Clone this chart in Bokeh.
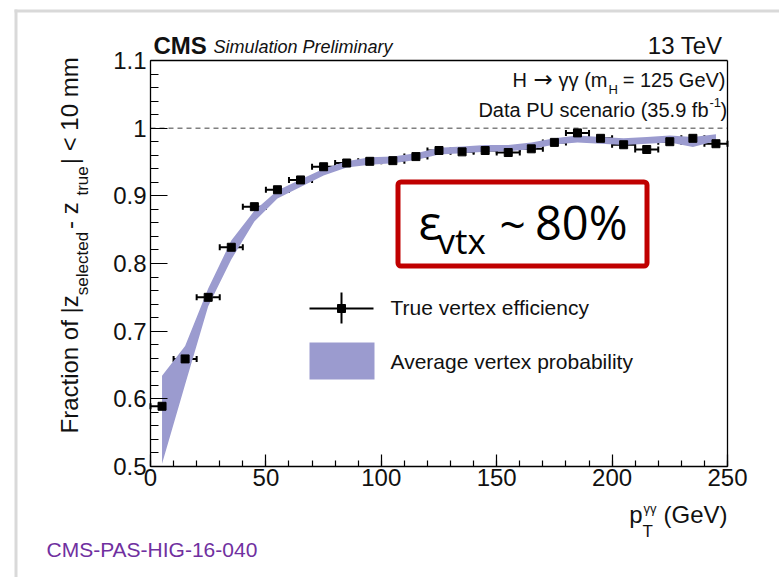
import numpy as np
from bokeh.plotting import figure
from bokeh.models import (Range1d, FixedTicker, CustomJSTickFormatter, Label,
                          BoxAnnotation, Whisker, TeeHead, ColumnDataSource, LinearAxis)
from bokeh.embed import file_html
from bokeh.resources import INLINE

# ---------------- data ----------------
pt_centers = [5, 15, 25, 35, 45, 55, 65, 75, 85, 95, 105, 115, 125,
              135, 145, 155, 165, 175, 185, 195, 205, 215, 225, 235, 245]
bin_half_width = 5
true_eff = [0.589, 0.659, 0.750, 0.824, 0.884, 0.909, 0.9235, 0.943, 0.9485,
            0.951, 0.952, 0.958, 0.967, 0.965, 0.967, 0.964, 0.9695, 0.979,
            0.993, 0.985, 0.9755, 0.9685, 0.980, 0.985, 0.977]
true_eff_err = [0.002, 0.002, 0.002, 0.002, 0.002, 0.002, 0.002, 0.002, 0.002,
                0.002, 0.002, 0.002, 0.002, 0.002, 0.002, 0.003, 0.004, 0.004,
                0.005, 0.004, 0.005, 0.006, 0.004, 0.004, 0.005]
avg_prob_lo = [0.504, 0.621, 0.737, 0.806, 0.862, 0.896, 0.913, 0.930, 0.942,
               0.946, 0.948, 0.953, 0.961, 0.963, 0.965, 0.966, 0.969, 0.976,
               0.979, 0.977, 0.975, 0.977, 0.979, 0.972, 0.981]
avg_prob_hi = [0.634, 0.678, 0.763, 0.834, 0.878, 0.908, 0.924, 0.940, 0.951,
               0.957, 0.958, 0.963, 0.971, 0.973, 0.975, 0.975, 0.979, 0.985,
               0.989, 0.987, 0.985, 0.987, 0.989, 0.987, 0.991]
x_ticks = [0, 50, 100, 150, 200, 250]
y_ticks = [0.5, 0.6, 0.7, 0.8, 0.9, 1.0, 1.1]
reference_line = 1.0

# ---------------- layout geometry ----------------
W, H = 779, 577
FRAME_L, FRAME_R, FRAME_T, FRAME_B = 150, 727, 60, 466
X0, X1 = x_ticks[0], x_ticks[-1]
Y0, Y1 = y_ticks[0], y_ticks[-1]


def dx(px):
    return X0 + (px - FRAME_L) * (X1 - X0) / (FRAME_R - FRAME_L)


def dy(py):
    return Y0 + (FRAME_B - py) * (Y1 - Y0) / (FRAME_B - FRAME_T)


# the plotting frame spans the whole canvas; the axes are placed with fixed_location
p = figure(frame_width=W, frame_height=H, width=W, height=H,
           min_border_left=0, min_border_right=0, min_border_top=0, min_border_bottom=0,
           x_range=Range1d(dx(0), dx(W)), y_range=Range1d(dy(H), dy(0)),
           output_backend="svg", toolbar_location=None)
p.title.visible = False
p.background_fill_color = "white"
p.border_fill_color = "white"
p.outline_line_color = None
p.xgrid.visible = False
p.ygrid.visible = False

FONT = "Liberation Sans"

# axes
xminor = [float(v) for v in np.arange(X0, X1 + 1, 10)]
yminor = [round(v, 2) for v in np.arange(Y0, Y1 + 0.001, 0.02)]
p.xaxis.ticker = FixedTicker(ticks=x_ticks, minor_ticks=xminor)
p.yaxis.ticker = FixedTicker(ticks=y_ticks, minor_ticks=yminor)
p.yaxis.formatter = CustomJSTickFormatter(
    code="return (Math.abs(tick - Math.round(tick)) < 1e-9) ? tick.toFixed(0) : tick.toFixed(1);")
p.xaxis.fixed_location = Y0
p.yaxis.fixed_location = X0
p.xaxis.bounds = (X0, X1)
p.yaxis.bounds = (Y0, Y1)
for ax, mj, mn in ((p.xaxis, 12, 6), (p.yaxis, 17, 8)):
    ax.major_tick_in = mj
    ax.major_tick_out = 0
    ax.minor_tick_in = mn
    ax.minor_tick_out = 0
    ax.axis_line_color = "black"
    ax.axis_line_width = 1.3
    ax.major_tick_line_color = "black"
    ax.minor_tick_line_color = "black"
    ax.major_tick_line_width = 1.2
    ax.minor_tick_line_width = 1.2
    ax.major_label_text_font = FONT
    ax.major_label_text_font_size = "24px"
    ax.major_label_text_color = "#111111"
p.xaxis.major_label_standoff = 2
p.yaxis.major_label_standoff = 4

# top and right frame lines (axes without ticks)
top_axis = LinearAxis(fixed_location=Y1, bounds=(X0, X1), ticker=FixedTicker(ticks=[]),
                      axis_line_color="black", axis_line_width=1.3,
                      major_tick_line_color=None, minor_tick_line_color=None)
right_axis = LinearAxis(fixed_location=X1, bounds=(Y0, Y1), ticker=FixedTicker(ticks=[]),
                        axis_line_color="black", axis_line_width=1.3,
                        major_tick_line_color=None, minor_tick_line_color=None)
p.add_layout(top_axis, "above")
p.add_layout(right_axis, "right")

# dashed line at 1
p.line(x=[X0, X1], y=[reference_line, reference_line], line_color="#808080",
       line_width=1.5, line_dash="5 4")

# band
p.varea(x=pt_centers, y1=avg_prob_lo, y2=avg_prob_hi, fill_color="#9b9bcf")

# points with error bars
xc = np.array(pt_centers, dtype=float)
ye = np.array(true_eff)
ee = np.array(true_eff_err)
src = ColumnDataSource(dict(x=xc, y=ye, xlo=xc - bin_half_width, xhi=xc + bin_half_width,
                            ylo=ye - ee, yhi=ye + ee))
p.add_layout(Whisker(source=src, base="y", lower="xlo", upper="xhi", dimension="width",
                     line_color="black", line_width=2,
                     lower_head=TeeHead(size=6, line_width=2, line_color="black"),
                     upper_head=TeeHead(size=6, line_width=2, line_color="black")))
p.segment(x0="x", y0="ylo", x1="x", y1="yhi", source=src, line_color="black", line_width=2)
p.scatter(x="x", y="y", source=src, marker="square", size=8, color="black")

# legend (drawn by hand)
lx = dx(341)
ly = dy(308)
p.segment(x0=[dx(309), lx], y0=[ly, dy(292)], x1=[dx(373), lx], y1=[ly, dy(323)],
          line_color="black", line_width=2)
p.scatter(x=[lx], y=[ly], marker="square", size=8, color="black")
p.quad(left=[dx(309)], right=[dx(374)], top=[dy(342)], bottom=[dy(379)],
       fill_color="#9b9bcf", line_color=None)

# baseline correction (Bokeh places the alphabetic baseline a bit low)
BASE_SHIFT = {"Liberation Sans": 0.30, "Open Sans": 0.43, "DejaVu Sans": 0.30}


def txt(s, px, py, size, font=FONT, align="left", color="#111111", style="normal", angle=0.0):
    sh = BASE_SHIFT.get(font, 0.3) * size
    if angle == 0.0:
        py = py - sh
    else:
        px = px - sh
    p.add_layout(Label(x=dx(px), y=dy(py), text=s, text_font=font,
                       text_font_size=f"{size}px", text_align=align,
                       text_baseline="alphabetic", text_color=color,
                       text_font_style=style, angle=angle))


txt("True vertex efficiency", 390, 313, 21)
txt("Average vertex probability", 390, 367, 21)

# header texts
txt("CMS", 153, 52, 24, style="bold")
txt("Simulation Preliminary", 213, 52, 18, style="italic")
txt("13 TeV", 722, 52, 24, align="right")
txt("H", 512, 85, 20)
txt("\u2192", 533, 85, 23, font="DejaVu Sans")
txt("\u03b3\u03b3 (m", 607, 85, 20, align="right")
txt("H", 608, 93, 13)
txt("= 125 GeV)", 725, 85, 20, align="right")
txt("Data PU scenario (35.9 fb", 708, 115, 20, align="right")
txt("-1", 709, 106, 13)
txt(")", 720, 115, 20)

# x-axis title
txt("p", 642, 521, 24, align="right")
txt("T", 642, 536, 17)
txt("\u03b3\u03b3", 643, 512, 13)
txt("(GeV)", 727, 521, 24, align="right")

# y-axis title (rotated, built piece by piece)
ARIAL = {' ': 278, 'F': 611, 'r': 333, 'a': 556, 'c': 500, 't': 278, 'i': 222, 'o': 556,
         'n': 556, 'f': 278, '|': 260, 'z': 500, 's': 500, 'e': 556, 'l': 222, 'd': 556,
         '-': 333, 'u': 556, '<': 584, '1': 556, '0': 556, 'm': 833}
pieces = [("Fraction of |z", 24, 76, 0), ("selected", 17, 87, 3), (" - z", 24, 76, 0),
          ("true", 17, 87, 2), ("| < 10 mm", 24, 76, 0)]
ypos = 433.0
for s, sz, bx, gap in pieces:
    txt(s, bx, ypos, sz, angle=np.pi / 2)
    ypos -= sum(ARIAL.get(ch, 556) for ch in s) * sz / 1000.0 + gap

# red box with epsilon
p.add_layout(BoxAnnotation(left=dx(397.5), right=dx(646.5), top=dy(181.5), bottom=dy(265.5),
                           fill_color=None, fill_alpha=0, line_color="#c00000", line_alpha=1,
                           line_width=5, border_radius=3))
txt("\u03b5", 418, 242, 48, font="Open Sans", color="black")
txt("vtx", 437, 255, 35, font="Open Sans", color="black")
txt("~", 499, 242, 46, font="Open Sans", color="black")
txt("80%", 627, 242, 47, font="Open Sans", color="black", align="right")

# footer
txt("CMS-PAS-HIG-16-040", 46, 555, 21, color="#7030a0")

# slide border (light grey)
p.quad(left=[dx(14), dx(14)], right=[dx(17), dx(W)], top=[dy(9), dy(9)], bottom=[dy(H), dy(12)],
       fill_color="#d9d9d9", line_color=None)

open("out.html", "w").write(file_html(p, INLINE))
